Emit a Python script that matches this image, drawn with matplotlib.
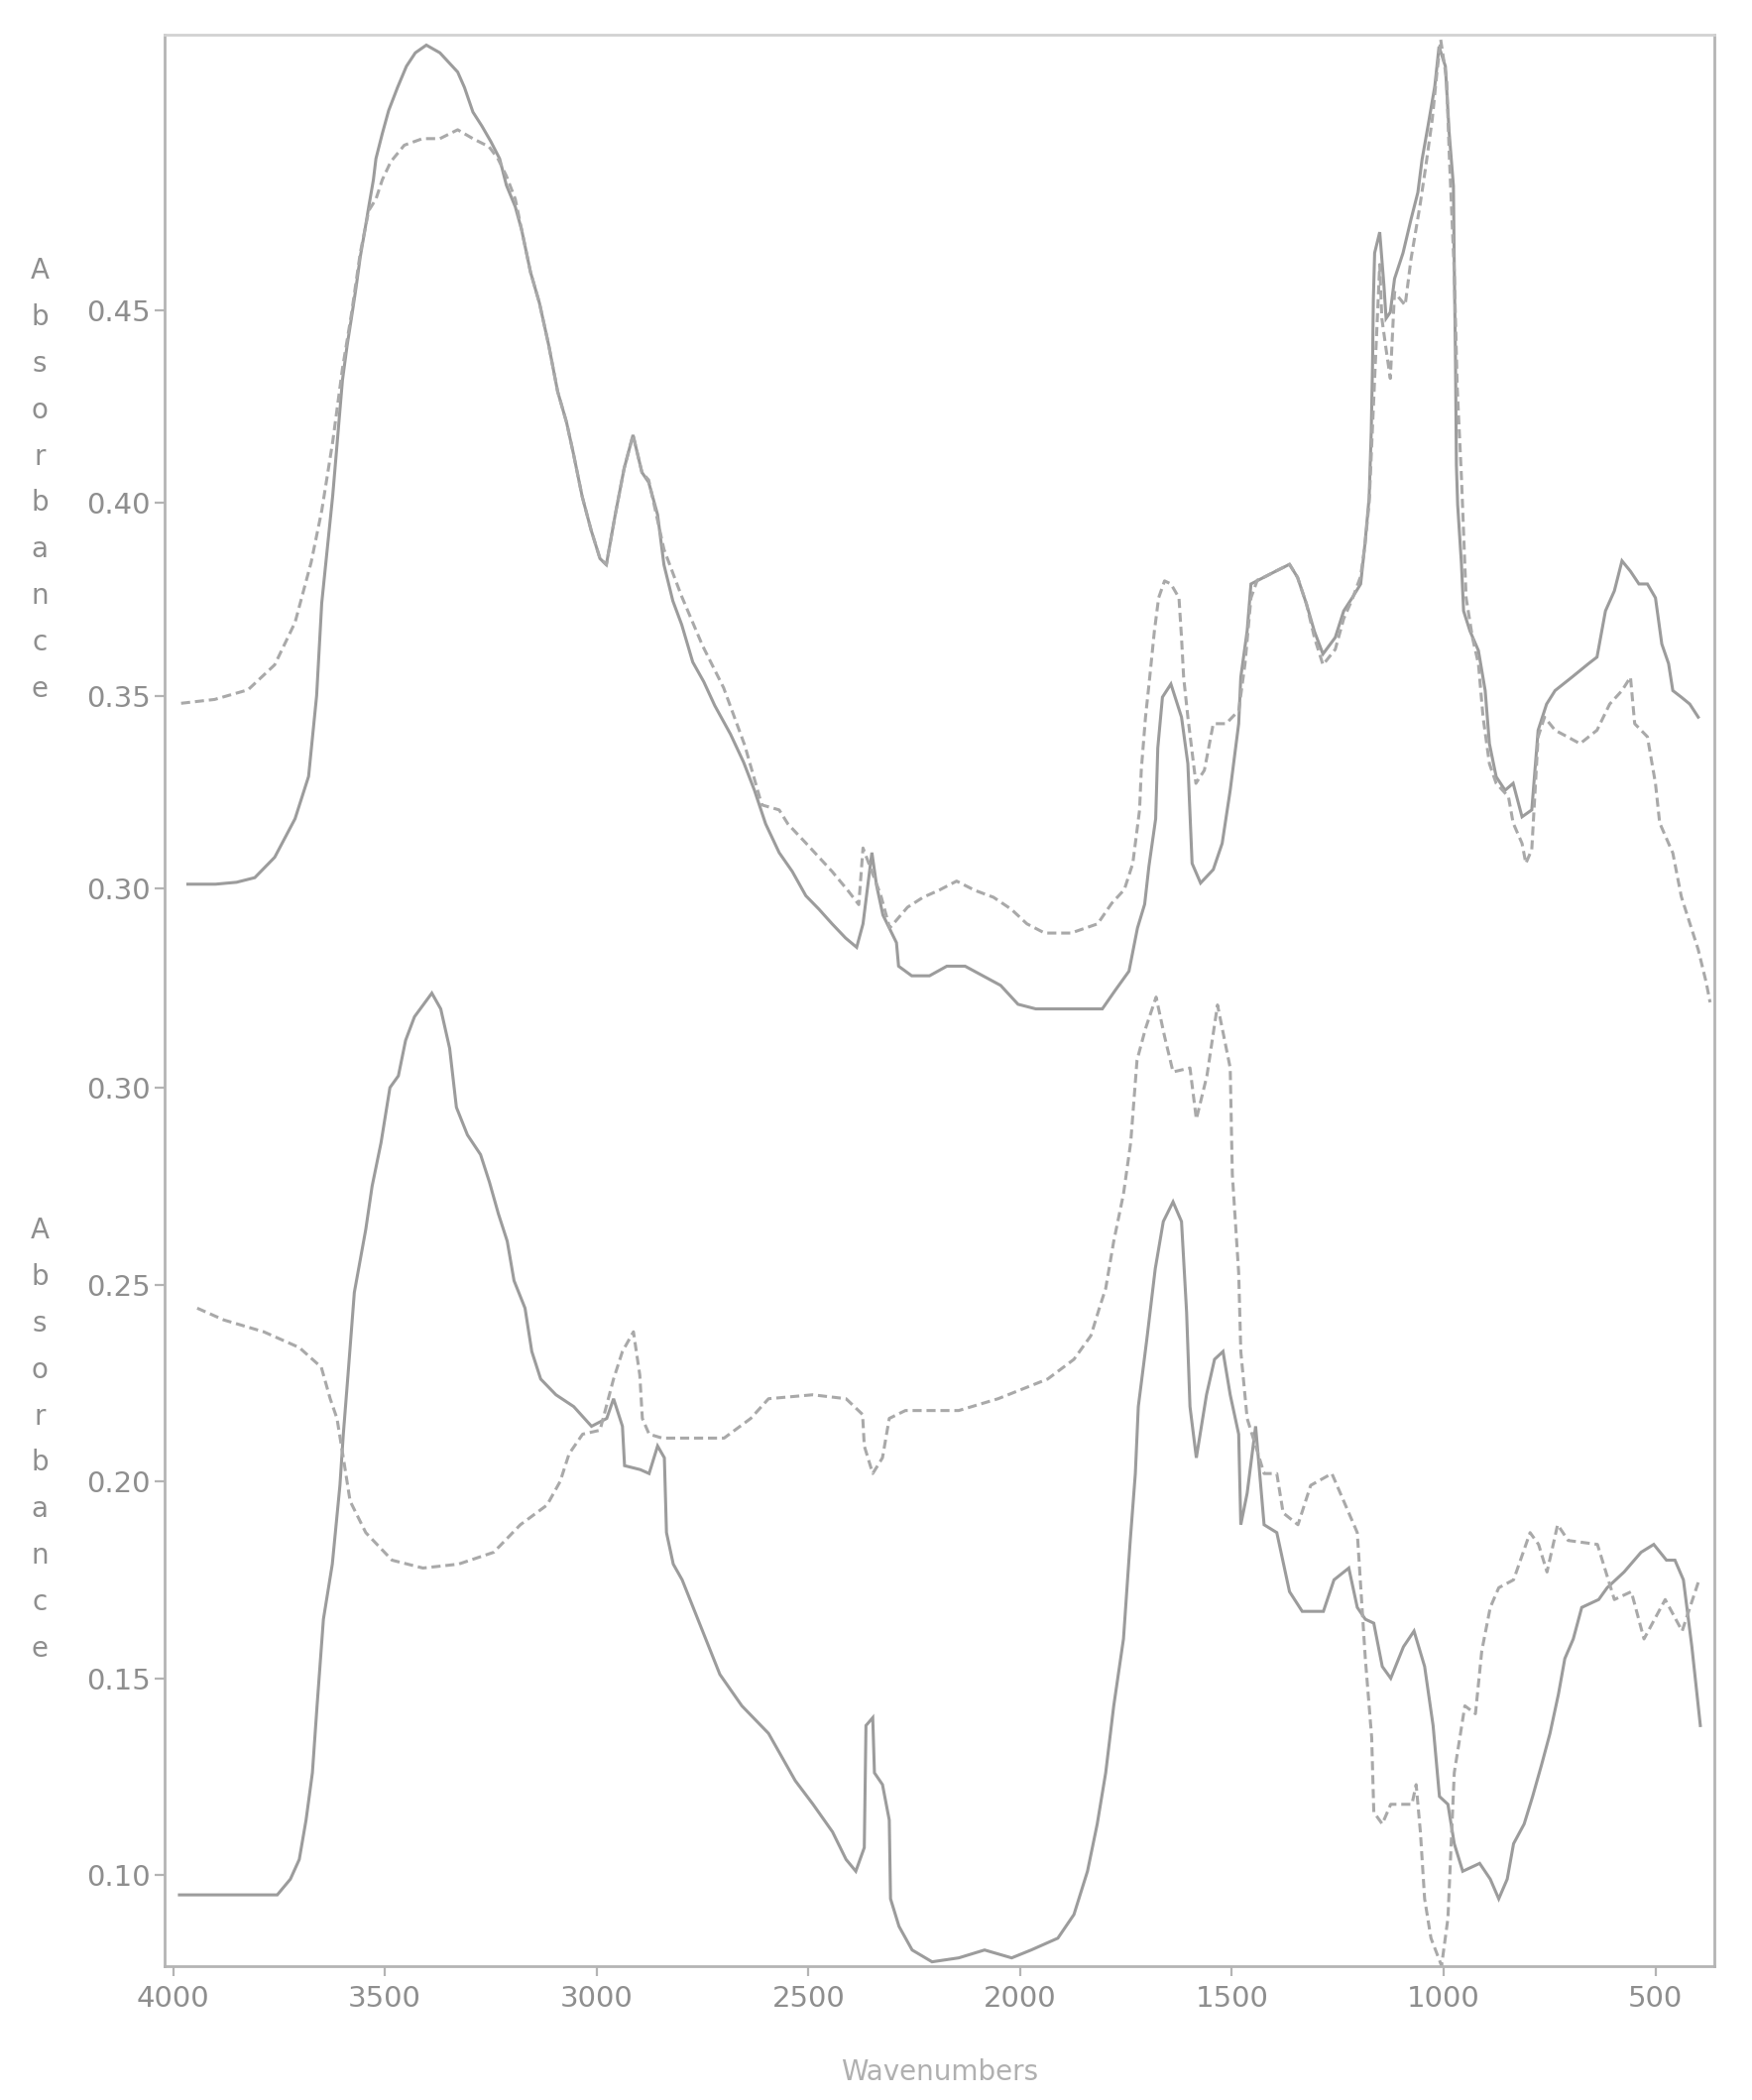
import matplotlib
matplotlib.use("Agg")
import matplotlib.pyplot as plt
from matplotlib.ticker import FormatStrFormatter

# ---------------- data ----------------
# Upper spectra (left axis 0.30-0.45)
top_solid_wn = [3965, 3900, 3850, 3807, 3760, 3712, 3680, 3661, 3649, 3623, 3600, 3589, 3579, 3568,
                3558, 3547, 3538, 3527, 3521, 3506, 3491, 3470, 3449, 3428, 3402, 3370, 3349, 3328,
                3312, 3292, 3271, 3250, 3229, 3213, 3192, 3177, 3156, 3135, 3113, 3092, 3071, 3055,
                3034, 3013, 2992, 2977, 2956, 2935, 2914, 2893, 2877, 2856, 2841, 2820, 2799, 2773,
                2747, 2721, 2684, 2653, 2627, 2601, 2569, 2538, 2506, 2475, 2444, 2412, 2386, 2371,
                2350, 2339, 2324, 2292, 2287, 2256, 2214, 2173, 2130, 2088, 2046, 2005, 1963, 1880,
                1806, 1775, 1743, 1723, 1706, 1696, 1680, 1675, 1664, 1644, 1619, 1604, 1594, 1574,
                1544, 1523, 1504, 1484, 1479, 1464, 1455, 1425, 1395, 1364, 1345, 1324, 1305, 1285,
                1256, 1236, 1216, 1196, 1186, 1176, 1171, 1168, 1166, 1163, 1151, 1141, 1136, 1126,
                1116, 1096, 1077, 1061, 1051, 1037, 1021, 1011, 996, 987, 977, 975, 972, 970, 967,
                958, 953, 938, 918, 902, 892, 876, 855, 836, 815, 792, 777, 757, 737, 697, 658, 638,
                618, 597, 579, 559, 539, 519, 500, 485, 469, 459, 439, 419, 399]
top_solid_abs = [0.301, 0.301, 0.3015, 0.3027, 0.308, 0.318, 0.329, 0.350, 0.374, 0.402, 0.432, 0.441,
                 0.448, 0.456, 0.464, 0.471, 0.477, 0.484, 0.4895, 0.496, 0.502, 0.508, 0.5135, 0.517,
                 0.519, 0.517, 0.5145, 0.512, 0.508, 0.5016, 0.498, 0.494, 0.4895, 0.4826, 0.477,
                 0.471, 0.460, 0.452, 0.441, 0.429, 0.421, 0.413, 0.4017, 0.393, 0.3856, 0.384, 0.397,
                 0.409, 0.4177, 0.408, 0.4054, 0.397, 0.384, 0.3746, 0.3684, 0.3587, 0.3536, 0.3474,
                 0.340, 0.3327, 0.3253, 0.3167, 0.3092, 0.3043, 0.298, 0.2945, 0.2907, 0.287, 0.2846,
                 0.2907, 0.3092, 0.3007, 0.293, 0.2858, 0.2797, 0.2772, 0.2772, 0.2797, 0.2797,
                 0.2772, 0.2747, 0.2698, 0.2686, 0.2686, 0.2686, 0.2735, 0.2784, 0.2896, 0.2958,
                 0.3056, 0.318, 0.3364, 0.3496, 0.353, 0.3444, 0.3323, 0.3064, 0.3013, 0.3048, 0.3116,
                 0.3254, 0.3427, 0.3548, 0.3668, 0.379, 0.3807, 0.3824, 0.3841, 0.3807, 0.3738,
                 0.3666, 0.3608, 0.3651, 0.372, 0.3754, 0.379, 0.3893, 0.4014, 0.4186, 0.4359, 0.453,
                 0.465, 0.4704, 0.4565, 0.448, 0.4496, 0.4583, 0.465, 0.4738, 0.4807, 0.4893, 0.498,
                 0.5083, 0.5186, 0.5135, 0.4962, 0.4824, 0.4617, 0.4359, 0.41, 0.3996, 0.3841, 0.372,
                 0.3668, 0.3617, 0.3513, 0.3375, 0.3289, 0.3254, 0.3272, 0.3185, 0.3203, 0.341,
                 0.3478, 0.3513, 0.3548, 0.3583, 0.360, 0.372, 0.3772, 0.385, 0.3823, 0.379, 0.379,
                 0.3754, 0.3634, 0.3583, 0.3513, 0.3496, 0.3478, 0.3444]

top_dash_wn = [3981, 3902, 3823, 3760, 3712, 3674, 3649, 3623, 3600, 3579, 3558, 3547, 3538, 3521,
               3506, 3486, 3454, 3411, 3370, 3328, 3292, 3254, 3233, 3213, 3192, 3177, 3156, 3135,
               3113, 3092, 3071, 3055, 3034, 3013, 2992, 2977, 2956, 2935, 2914, 2893, 2877, 2841,
               2800, 2750, 2700, 2650, 2610, 2569, 2548, 2506, 2465, 2444, 2407, 2381, 2371, 2329,
               2308, 2266, 2229, 2192, 2150, 2107, 2063, 2021, 1984, 1942, 1880, 1817, 1784, 1754,
               1734, 1718, 1714, 1704, 1694, 1683, 1673, 1659, 1644, 1625, 1619, 1614, 1604, 1585,
               1565, 1544, 1514, 1484, 1469, 1455, 1440, 1425, 1395, 1364, 1345, 1324, 1305, 1285,
               1256, 1236, 1216, 1196, 1186, 1176, 1168, 1160, 1151, 1146, 1136, 1126, 1116, 1091,
               1077, 1056, 1042, 1027, 1016, 1007, 993, 987, 975, 968, 958, 953, 947, 932, 918, 907,
               892, 876, 847, 836, 815, 806, 792, 777, 762, 737, 708, 678, 638, 608, 579, 559, 549,
               519, 500, 490, 459, 439, 419, 399, 380, 371]
top_dash_abs = [0.348, 0.349, 0.3515, 0.358, 0.369, 0.3846, 0.398, 0.416, 0.435, 0.449, 0.465, 0.471,
                0.476, 0.479, 0.484, 0.4887, 0.493, 0.4947, 0.4947, 0.497, 0.4947, 0.4926, 0.4895,
                0.485, 0.479, 0.471, 0.460, 0.452, 0.441, 0.429, 0.421, 0.413, 0.4017, 0.393, 0.3856,
                0.384, 0.397, 0.409, 0.4177, 0.408, 0.406, 0.388, 0.376, 0.363, 0.352, 0.337, 0.3216,
                0.3203, 0.3166, 0.3117, 0.3068, 0.3043, 0.2994, 0.2957, 0.3104, 0.2981, 0.2896,
                0.295, 0.2976, 0.2994, 0.3018, 0.2994, 0.2976, 0.2945, 0.2907, 0.2883, 0.2883,
                0.2907, 0.296, 0.2996, 0.3064, 0.3203, 0.3306, 0.3444, 0.3548, 0.3668, 0.3754,
                0.3798, 0.379, 0.3754, 0.3651, 0.3548, 0.3444, 0.3272, 0.3306, 0.3427, 0.3427,
                0.3461, 0.3583, 0.3754, 0.380, 0.3807, 0.3824, 0.3841, 0.3807, 0.3738, 0.365, 0.358,
                0.362, 0.370, 0.375, 0.381, 0.389, 0.400, 0.42, 0.44, 0.462, 0.448, 0.440, 0.4324,
                0.4548, 0.4514, 0.4635, 0.4773, 0.4877, 0.4997, 0.5118, 0.5204, 0.510, 0.491, 0.46,
                0.43, 0.4066, 0.3927, 0.3754, 0.365, 0.3583, 0.3444, 0.3323, 0.3272, 0.3237, 0.3169,
                0.3116, 0.3064, 0.310, 0.3393, 0.3444, 0.341, 0.3393, 0.3375, 0.341, 0.3478, 0.3513,
                0.3548, 0.3427, 0.3393, 0.3272, 0.3169, 0.3091, 0.2978, 0.2909, 0.284, 0.2754, 0.2703]

# Lower spectra (left axis 0.10-0.30)
bot_solid_wn = [3985, 3850, 3754, 3723, 3702, 3686, 3671, 3660, 3645, 3624, 3606, 3598, 3587, 3572,
                3545, 3530, 3509, 3488, 3468, 3451, 3430, 3389, 3368, 3347, 3331, 3305, 3274, 3253,
                3232, 3211, 3195, 3169, 3153, 3132, 3096, 3054, 3012, 2976, 2960, 2939, 2934, 2897,
                2876, 2856, 2840, 2835, 2819, 2798, 2761, 2709, 2657, 2594, 2531, 2489, 2443, 2411,
                2388, 2368, 2364, 2348, 2344, 2325, 2309, 2306, 2286, 2255, 2208, 2145, 2084, 2020,
                1974, 1911, 1873, 1841, 1818, 1798, 1779, 1756, 1740, 1728, 1721, 1701, 1681, 1662,
                1639, 1619, 1607, 1599, 1584, 1560, 1541, 1521, 1504, 1484, 1479, 1464, 1444, 1424,
                1394, 1364, 1334, 1284, 1259, 1224, 1204, 1185, 1165, 1145, 1125, 1095, 1070, 1045,
                1025, 1010, 990, 975, 955, 915, 890, 870, 850, 835, 810, 790, 769, 749, 729, 714, 694,
                674, 634, 614, 574, 534, 504, 474, 454, 434, 414, 394]
bot_solid_abs = [0.095, 0.095, 0.095, 0.099, 0.104, 0.114, 0.126, 0.143, 0.165, 0.179, 0.199, 0.212,
                 0.227, 0.248, 0.264, 0.275, 0.286, 0.300, 0.303, 0.312, 0.318, 0.324, 0.320, 0.310,
                 0.295, 0.288, 0.283, 0.276, 0.268, 0.261, 0.251, 0.244, 0.233, 0.226, 0.222, 0.219,
                 0.214, 0.216, 0.221, 0.214, 0.204, 0.203, 0.202, 0.209, 0.206, 0.187, 0.179, 0.175,
                 0.165, 0.151, 0.143, 0.136, 0.124, 0.118, 0.111, 0.104, 0.101, 0.107, 0.138, 0.140,
                 0.126, 0.123, 0.114, 0.094, 0.087, 0.081, 0.078, 0.079, 0.081, 0.079, 0.081, 0.084,
                 0.090, 0.101, 0.113, 0.126, 0.143, 0.160, 0.185, 0.202, 0.219, 0.236, 0.254, 0.266,
                 0.271, 0.266, 0.243, 0.219, 0.206, 0.222, 0.231, 0.233, 0.222, 0.212, 0.189, 0.197,
                 0.214, 0.189, 0.187, 0.172, 0.167, 0.167, 0.175, 0.178, 0.168, 0.165, 0.164, 0.153,
                 0.150, 0.158, 0.162, 0.153, 0.138, 0.120, 0.118, 0.108, 0.101, 0.103, 0.099, 0.094,
                 0.099, 0.108, 0.113, 0.120, 0.128, 0.136, 0.146, 0.155, 0.160, 0.168, 0.170, 0.173,
                 0.177, 0.182, 0.184, 0.180, 0.180, 0.175, 0.158, 0.138]

bot_dash_wn = [3943, 3880, 3786, 3702, 3650, 3629, 3613, 3598, 3582, 3545, 3483, 3410, 3326, 3243,
               3180, 3117, 3086, 3065, 3033, 2992, 2960, 2939, 2913, 2898, 2892, 2876, 2845, 2803,
               2699, 2636, 2594, 2490, 2411, 2372, 2368, 2348, 2325, 2309, 2271, 2145, 2052, 1935,
               1873, 1833, 1813, 1798, 1779, 1756, 1739, 1724, 1704, 1679, 1659, 1639, 1599, 1584,
               1559, 1534, 1504, 1499, 1484, 1479, 1464, 1444, 1424, 1394, 1379, 1344, 1314, 1264,
               1224, 1204, 1185, 1170, 1165, 1145, 1125, 1075, 1065, 1055, 1045, 1030, 1005, 990,
               975, 950, 925, 910, 890, 870, 835, 796, 776, 756, 731, 706, 637, 597, 557, 527, 477,
               437, 397]
bot_dash_abs = [0.244, 0.241, 0.238, 0.234, 0.229, 0.221, 0.216, 0.206, 0.195, 0.187, 0.180, 0.178,
                0.179, 0.182, 0.189, 0.194, 0.200, 0.207, 0.212, 0.213, 0.226, 0.233, 0.238, 0.227,
                0.216, 0.212, 0.211, 0.211, 0.211, 0.216, 0.221, 0.222, 0.221, 0.217, 0.209, 0.202,
                0.206, 0.216, 0.218, 0.218, 0.221, 0.226, 0.231, 0.237, 0.244, 0.249, 0.261, 0.273,
                0.286, 0.307, 0.315, 0.323, 0.313, 0.304, 0.305, 0.292, 0.303, 0.321, 0.305, 0.278,
                0.253, 0.233, 0.216, 0.209, 0.202, 0.202, 0.192, 0.189, 0.199, 0.202, 0.192, 0.187,
                0.155, 0.135, 0.116, 0.113, 0.118, 0.118, 0.123, 0.111, 0.094, 0.084, 0.077, 0.089,
                0.126, 0.143, 0.141, 0.157, 0.168, 0.173, 0.175, 0.187, 0.184, 0.177, 0.189, 0.185,
                0.184, 0.170, 0.172, 0.160, 0.170, 0.162, 0.175]

x_ticks = [4000, 3500, 3000, 2500, 2000, 1500, 1000, 500]
x_tick_labels = ["4000", "3500", "3000", "2500", "2000", "1500", "1000", "500"]
top_y_ticks = [0.30, 0.35, 0.40, 0.45]
bot_y_ticks = [0.10, 0.15, 0.20, 0.25, 0.30]
y_title = "Absorbance"
x_title = "Wavenumbers"

# ---------------- figure ----------------
W, H = 1767, 2118
fig = plt.figure(figsize=(W / 100, H / 100), dpi=100)
left, right, top, bottom = 166, 1729, 35, 1983
rect = [left / W, 1 - bottom / H, (right - left) / W, (bottom - top) / H]

line_col = "#9c9c9c"
dash_col = "#a9a9a9"
text_col = "#8e8e8e"
spine_col = "#b4b4b4"

ax_bot = fig.add_axes(rect)
ax_top = fig.add_axes(rect)
for ax in (ax_bot, ax_top):
    ax.patch.set_alpha(0)
    ax.set_xlim(4020, 361)

ax_top.set_ylim(0.0199, 0.5217)
ax_bot.set_ylim(0.0769, 0.5674)

# curves
ax_top.plot(top_solid_wn, top_solid_abs, color=line_col, lw=2.2, solid_joinstyle="miter")
ax_top.plot(top_dash_wn, top_dash_abs, color=dash_col, lw=2.2, dashes=(3.0, 1.6))
ax_bot.plot(bot_solid_wn, bot_solid_abs, color=line_col, lw=2.2, solid_joinstyle="miter")
ax_bot.plot(bot_dash_wn, bot_dash_abs, color=dash_col, lw=2.2, dashes=(3.0, 1.6))

# spines / ticks
for s in ax_top.spines.values():
    s.set_visible(False)
for name, s in ax_bot.spines.items():
    s.set_color(spine_col if name in ("left", "bottom", "right") else "#d2d2d2")
    s.set_linewidth(2.0)

ax_top.set_xticks([])
ax_top.set_yticks(top_y_ticks)
ax_bot.set_yticks(bot_y_ticks)
ax_bot.set_xticks(x_ticks)
ax_bot.set_xticklabels(x_tick_labels)
for ax in (ax_top, ax_bot):
    ax.yaxis.set_major_formatter(FormatStrFormatter("%.2f"))
    ax.tick_params(axis="y", direction="out", length=7, width=1.6, color=spine_col,
                   labelcolor=text_col, labelsize=21, pad=3)
ax_bot.tick_params(axis="x", direction="out", length=7, width=1.6, color=spine_col,
                   labelcolor=text_col, labelsize=21, pad=7)

ax_bot.set_xlabel(x_title, fontsize=20, color="#b0b0b0")
ax_bot.xaxis.set_label_coords(0.5, -0.055)
ax_bot.xaxis.label.set_va("center")

# stacked vertical axis titles
stacked = "\n".join(y_title)
fig.text(40 / W, 1 - 484 / H, stacked, ha="center", va="center", fontsize=20,
         color=text_col, linespacing=1.86)
fig.text(40 / W, 1 - 1452 / H, stacked, ha="center", va="center", fontsize=20,
         color=text_col, linespacing=1.86)

fig.savefig("out.png", dpi=100)
